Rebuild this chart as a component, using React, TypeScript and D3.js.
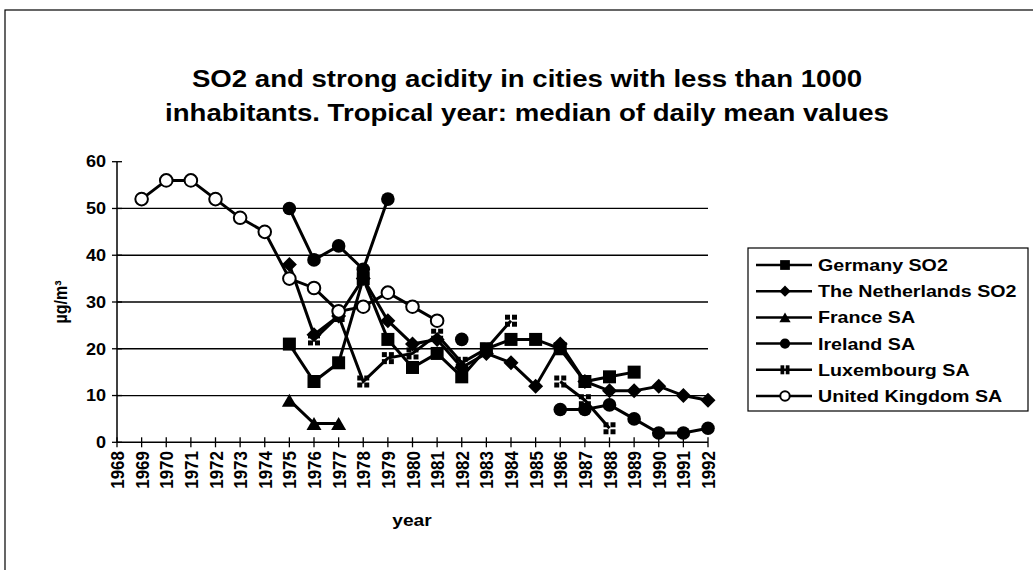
import React from 'react';
import * as d3 from 'd3';

const years = [
  '1968', '1969', '1970', '1971', '1972', '1973', '1974', '1975', '1976', '1977',
  '1978', '1979', '1980', '1981', '1982', '1983', '1984', '1985', '1986', '1987',
  '1988', '1989', '1990', '1991', '1992',
];

const germany = [null, null, null, null, null, null, null, 21, 13, 17, 35, 22, 16, 19, 14, 20, 22, 22, 20, 13, 14, 15, null, null, null];
const netherlands = [null, null, null, null, null, null, null, 38, 23, 27, 35, 26, 21, 22, 16, 19, 17, 12, 21, 13, 11, 11, 12, 10, 9];
const france = [null, null, null, null, null, null, null, 9, 4, 4, null, null, null, null, null, null, null, null, null, null, null, null, null, null, null];
const ireland = [null, null, null, null, null, null, null, 50, 39, 42, 37, 52, null, null, 22, null, null, null, 7, 7, 8, 5, 2, 2, 3];
const luxembourg = [null, null, null, null, null, null, null, null, 22, 27, 13, 18, 19, 23, 17, 20, 26, null, 13, 9, 3, null, null, null, null];
const unitedKingdom = [null, 52, 56, 56, 52, 48, 45, 35, 33, 28, 29, 32, 29, 26, null, null, null, null, null, null, null, null, null, null, null];

const yTicks = [0, 10, 20, 30, 40, 50, 60];
const gridTicks = [10, 20, 30, 40, 50];

const series = [
  { name: 'Germany SO2', values: germany, marker: 'square' },
  { name: 'The Netherlands SO2', values: netherlands, marker: 'diamond' },
  { name: 'France SA', values: france, marker: 'triangle' },
  { name: 'Ireland SA', values: ireland, marker: 'circle' },
  { name: 'Luxembourg SA', values: luxembourg, marker: 'lux' },
  { name: 'United Kingdom SA', values: unitedKingdom, marker: 'open' },
];

const FONT = '"Liberation Sans", Arial, Helvetica, sans-serif';
const SX = 1.13; // the scan is a bit wider than tall

function Marker({ type, cx, cy, s = 1 }: { type: string; cx: number; cy: number; s?: number }) {
  if (type === 'square') {
    const h = 6.5 * s;
    return <rect x={cx - h} y={cy - h} width={2 * h} height={2 * h} fill="#000" />;
  }
  if (type === 'diamond') {
    const h = 7.5 * s;
    return <path d={`M${cx},${cy - h}L${cx + h},${cy}L${cx},${cy + h}L${cx - h},${cy}Z`} fill="#000" />;
  }
  if (type === 'triangle') {
    const w = 7.5 * s;
    const h = 6.5 * s;
    return <path d={`M${cx},${cy - h}L${cx + w},${cy + h}L${cx - w},${cy + h}Z`} fill="#000" />;
  }
  if (type === 'circle') {
    return <circle cx={cx} cy={cy} r={6.8 * s} fill="#000" />;
  }
  if (type === 'open') {
    return <circle cx={cx} cy={cy} r={6.3 * s} fill="#fff" stroke="#000" strokeWidth={2} />;
  }
  // luxembourg: 2x2 little squares
  const q = 5 * s;
  const g = 1 * s;
  return (
    <g fill="#000">
      <rect x={cx - g - q} y={cy - g - q} width={q} height={q} />
      <rect x={cx + g} y={cy - g - q} width={q} height={q} />
      <rect x={cx - g - q} y={cy + g} width={q} height={q} />
      <rect x={cx + g} y={cy + g} width={q} height={q} />
    </g>
  );
}

export default function App() {
  const x = d3.scalePoint<string>().domain(years).range([117, 708]);
  const y = d3.scaleLinear().domain([0, 60]).range([442.3, 161.7]);

  const line = d3
    .line<number | null>()
    .defined((d) => d != null)
    .x((_, i) => x(years[i]) as number)
    .y((d) => y(d as number));

  const legendX = 748;
  const legendY = 248;
  const rowH = 26.2;

  return (
    <svg
      width={1033}
      height={570}
      style={{ position: 'absolute', left: 0, top: 0, background: '#fff' }}
      fontFamily={FONT}
      fontWeight="bold"
    >
      <rect x={5} y={10} width={1100} height={600} fill="#fff" stroke="#000" strokeWidth={1.2} />

      {/* title */}
      <g textAnchor="middle" fontSize={24}>
        <text transform={`translate(527,87) scale(1.15,1)`}>SO2 and strong acidity in cities with less than 1000</text>
        <text transform={`translate(527,121) scale(1.15,1)`}>inhabitants.  Tropical year: median of daily mean values</text>
      </g>

      {/* gridlines */}
      {gridTicks.map((t) => (
        <line key={t} x1={117} x2={708} y1={y(t)} y2={y(t)} stroke="#000" strokeWidth={1.3} />
      ))}

      {/* y axis */}
      <line x1={117} x2={117} y1={y(60)} y2={y(0)} stroke="#000" strokeWidth={1.5} />
      {yTicks.map((t) => (
        <g key={t}>
          <line x1={112} x2={122} y1={y(t)} y2={y(t)} stroke="#000" strokeWidth={1.3} />
          <text transform={`translate(106,${y(t)}) scale(${SX},1)`} dy="0.36em" textAnchor="end" fontSize={16}>
            {t}
          </text>
        </g>
      ))}
      <text transform={`translate(67,302) scale(${SX},1) rotate(-90)`} textAnchor="middle" fontSize={16}>
        µg/m³
      </text>

      {/* x axis */}
      <line x1={117} x2={708} y1={y(0)} y2={y(0)} stroke="#000" strokeWidth={1.5} />
      {years.map((yr) => (
        <g key={yr}>
          <line x1={x(yr)} x2={x(yr)} y1={y(0) - 5} y2={y(0) + 5} stroke="#000" strokeWidth={1.3} />
          <text
            transform={`translate(${(x(yr) as number) + 7},451) scale(${SX},1) rotate(-90)`}
            textAnchor="end"
            fontSize={17}
          >
            {yr}
          </text>
        </g>
      ))}
      <text transform={`translate(412,526) scale(${SX},1)`} textAnchor="middle" fontSize={17}>
        year
      </text>

      {/* series */}
      {series.map((s) => (
        <g key={s.name}>
          <path d={line(s.values) || ''} fill="none" stroke="#000" strokeWidth={3} />
          {s.values.map((v, i) =>
            v == null ? null : <Marker key={i} type={s.marker} cx={x(years[i]) as number} cy={y(v)} />
          )}
        </g>
      ))}

      {/* legend */}
      <rect x={legendX} y={legendY} width={280} height={163} fill="#fff" stroke="#000" strokeWidth={1.2} />
      {series.map((s, i) => {
        const ly = legendY + 17 + i * rowH;
        return (
          <g key={s.name}>
            <line x1={756} x2={812} y1={ly} y2={ly} stroke="#000" strokeWidth={2.5} />
            <Marker type={s.marker} cx={785} cy={ly} s={0.75} />
            <text transform={`translate(818,${ly}) scale(1.19,1)`} dy="0.36em" fontSize={16.5}>
              {s.name}
            </text>
          </g>
        );
      })}
    </svg>
  );
}
